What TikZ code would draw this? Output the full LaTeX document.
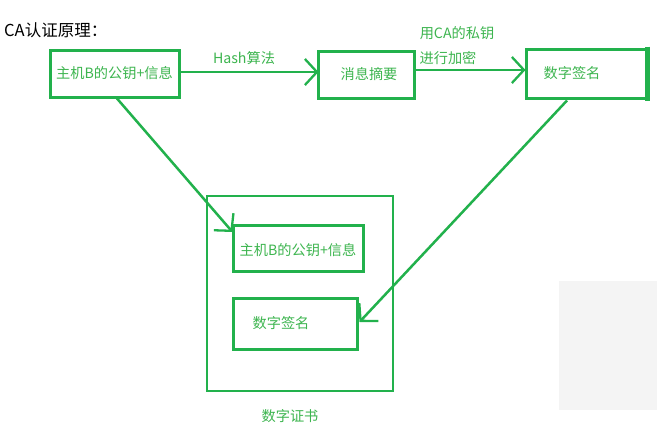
\documentclass[tikz,border=0pt]{standalone}
\usepackage{fontspec}
\setmainfont{Noto Sans CJK SC}
\usetikzlibrary{arrows.meta,calc}
\definecolor{pgreen}{HTML}{22B14C}
\definecolor{tgreen}{HTML}{3DB54F}
\definecolor{pgray}{HTML}{F4F4F4}
\tikzset{
  box/.style={draw=pgreen, line width=3pt, inner sep=0pt, fill=none},
  gtext/.style={text=tgreen, font=\fontsize{14.2}{17}\selectfont, inner sep=0pt},
  conn/.style={draw=pgreen, line width=2.5pt, -{Straight Barb[length=12pt,width=26pt,line width=2.3pt]}},
}
\begin{document}
\begin{tikzpicture}[x=1pt,y=-1pt]
\useasboundingbox[fill=white] (0,0) rectangle (672,445);
\fill[pgray] (559,281) rectangle (657,410);
\node[anchor=west, inner sep=0pt, font=\fontsize{16.5}{19}\selectfont] (title) at (4,30) {CA认证原理：};
% top row
\node[box, minimum width=129pt, minimum height=47pt] (b1) at (114.5,73.5) {};
\node[gtext] (t1) at (114.5,73.5) {主机B的公钥+信息};
\node[box, minimum width=96pt, minimum height=47pt] (b2) at (366,74.5) {};
\node[gtext] (t2) at (369,74.5) {消息摘要};
\node[box, minimum width=120pt, minimum height=49pt] (b3) at (586,73.5) {};
\draw[pgreen, line width=4.5pt] ($(b3.north east)+(0,-1)$) -- ($(b3.south east)+(0,1.5)$);
\node[gtext] (t3) at (572,73.5) {数字签名};
% certificate
\node[box, line width=2.6pt, minimum width=186pt, minimum height=195pt] (cert) at (300,293.5) {};
\node[box, minimum width=130pt, minimum height=46pt] (i1) at (298,248) {};
\node[gtext] (ti1) at (298,250) {主机B的公钥+信息};
\node[box, minimum width=124pt, minimum height=51pt] (i2) at (295,323.5) {};
\node[gtext] (ti2) at (281,323.5) {数字签名};
\node[gtext] (clab) at (290,416) {数字证书};
% labels
\node[gtext] (l1) at (244,58) {Hash算法};
\node[gtext] (l2) at (457,33) {用CA的私钥};
\node[gtext] (l3) at (448,58) {进行加密};
% connectors
\draw[conn] ($(b1.east)+(0,-1.5)$) -- ($(b2.west)+(2,-2.5)$);
\draw[conn] ($(b2.east)+(0,-4.5)$) -- ($(b3.west)+(1,-3.5)$);
\draw[conn] ($(b1.south)+(2.5,0)$) -- ($(i1.west)+(1,-16)$);
\draw[conn] ($(b3.south)+(-19,1)$) -- ($(i2.east)+(1,-1.5)$);
\end{tikzpicture}
\end{document}
